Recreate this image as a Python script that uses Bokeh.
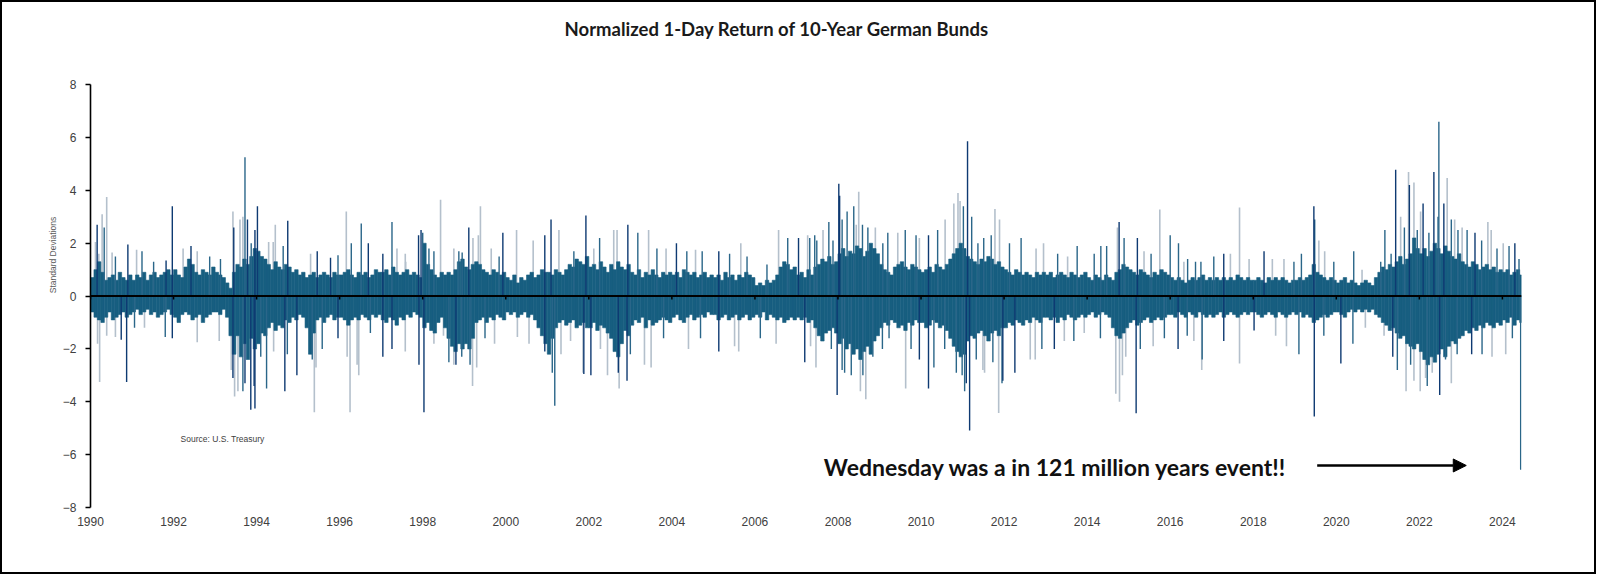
from bokeh.plotting import figure
from bokeh.models import ColumnDataSource, Span, Label, Arrow, NormalHead, FixedTicker, Range1d
from bokeh.embed import file_html
from bokeh.resources import INLINE

# ---------------- data ----------------
START_YEAR = 1990
TICK_YEARS = list(range(1990, 2025, 2))
Y_TICKS = list(range(-8, 9, 2))

# typical monthly extent of the dense (body) part of the daily bars, in std devs
BODY_POS = [
    [0.7, 1.0, 1.3, 0.9, 0.6, 0.7, 0.8, 0.6, 0.9, 0.7, 0.6, 0.8],  # 1990
    [0.6, 0.8, 0.7, 0.9, 0.6, 0.8, 0.9, 0.7, 0.8, 0.9, 1.0, 0.8],  # 1991
    [1.0, 0.8, 0.7, 1.1, 1.4, 1.2, 0.9, 0.8, 1.0, 0.9, 0.8, 1.1],  # 1992
    [0.9, 0.8, 0.7, 0.5, 0.3, 0.9, 1.2, 1.1, 1.4, 1.2, 1.5, 1.8],  # 1993
    [1.7, 1.5, 1.4, 1.2, 1.0, 1.3, 1.1, 1.0, 1.2, 1.1, 0.9, 1.0],  # 1994
    [0.8, 0.9, 0.7, 0.8, 0.9, 0.7, 0.8, 0.9, 0.8, 0.7, 0.9, 0.8],  # 1995
    [0.8, 0.9, 1.0, 0.8, 0.7, 0.9, 0.8, 0.9, 0.7, 0.8, 1.0, 0.9],  # 1996
    [0.9, 1.0, 0.8, 1.1, 0.9, 0.8, 0.9, 1.0, 0.8, 0.9, 0.8, 0.7],  # 1997
    [2.0, 1.2, 1.0, 0.8, 0.7, 0.9, 0.8, 0.9, 0.8, 1.0, 1.3, 1.4],  # 1998
    [1.1, 1.0, 1.2, 1.3, 1.2, 1.0, 0.9, 0.8, 1.0, 0.9, 0.8, 0.9],  # 1999
    [0.7, 0.6, 0.8, 0.5, 0.7, 0.6, 0.8, 0.9, 0.7, 0.8, 1.0, 0.9],  # 2000
    [0.9, 0.8, 1.0, 0.9, 0.8, 1.0, 1.2, 1.1, 1.4, 1.3, 1.2, 1.5],  # 2001
    [1.1, 1.2, 1.0, 1.3, 1.1, 0.9, 1.2, 1.0, 1.3, 1.1, 1.0, 1.2],  # 2002
    [0.9, 0.8, 1.0, 0.7, 0.9, 0.8, 1.0, 0.8, 0.7, 0.9, 0.8, 0.9],  # 2003
    [0.8, 0.9, 0.7, 1.0, 0.9, 0.8, 0.9, 0.7, 0.8, 0.9, 0.7, 0.8],  # 2004
    [0.7, 0.8, 0.6, 0.9, 0.7, 0.8, 0.6, 0.8, 0.7, 0.9, 0.8, 0.7],  # 2005
    [0.4, 0.5, 0.4, 0.6, 0.5, 0.6, 0.8, 1.1, 1.3, 1.2, 1.0, 1.1],  # 2006
    [0.8, 0.9, 0.7, 1.0, 0.8, 1.1, 1.2, 1.4, 1.3, 1.5, 1.2, 1.3],  # 2007
    [1.6, 1.8, 1.5, 1.7, 1.6, 1.9, 1.8, 1.5, 1.7, 2.0, 1.8, 1.6],  # 2008
    [1.2, 1.0, 0.9, 0.8, 1.1, 1.2, 1.3, 1.1, 1.0, 1.2, 1.1, 1.0],  # 2009
    [0.9, 1.0, 1.1, 0.9, 1.2, 1.1, 1.0, 1.2, 1.4, 1.6, 1.8, 2.0],  # 2010
    [1.8, 1.5, 1.4, 1.3, 1.2, 1.4, 1.3, 1.5, 1.4, 1.2, 1.3, 1.1],  # 2011
    [1.0, 0.9, 0.8, 1.0, 0.9, 0.8, 0.9, 0.8, 0.7, 0.9, 0.8, 0.9],  # 2012
    [0.8, 0.9, 0.7, 0.8, 0.9, 0.8, 0.7, 0.9, 0.8, 0.7, 0.8, 0.9],  # 2013
    [0.7, 0.6, 0.8, 0.7, 0.6, 0.8, 0.7, 0.6, 0.9, 1.0, 1.2, 1.1],  # 2014
    [1.0, 0.9, 0.8, 1.0, 0.9, 0.8, 0.7, 0.9, 0.8, 1.0, 0.9, 0.8],  # 2015
    [0.7, 0.6, 0.7, 0.6, 0.5, 0.6, 0.7, 0.6, 0.7, 0.8, 0.6, 0.7],  # 2016
    [0.6, 0.7, 0.6, 0.7, 0.6, 0.7, 0.6, 0.8, 0.7, 0.6, 0.7, 0.6],  # 2017
    [0.6, 0.7, 0.6, 0.5, 0.7, 0.6, 0.7, 0.6, 0.7, 0.6, 0.5, 0.6],  # 2018
    [0.6, 0.7, 0.6, 0.7, 0.8, 1.2, 0.9, 0.8, 0.7, 0.6, 0.7, 0.6],  # 2019
    [0.5, 0.6, 0.7, 0.5, 0.6, 0.5, 0.4, 0.5, 0.6, 0.5, 0.4, 0.7],  # 2020
    [0.9, 1.1, 1.0, 1.2, 1.1, 1.3, 1.5, 1.2, 1.4, 1.6, 2.2, 1.8],  # 2021
    [1.6, 1.8, 1.5, 1.7, 2.0, 1.8, 1.6, 1.9, 1.7, 1.5, 1.4, 1.6],  # 2022
    [1.3, 1.2, 1.1, 1.3, 1.2, 1.0, 1.1, 1.2, 1.0, 1.1, 0.9, 1.0],  # 2023
    [0.9, 1.0, 0.8, 0.9, 1.0, 0.8],                                # 2024
]
BODY_NEG = [
    [-0.6, -0.8, -0.9, -1.0, -0.8, -0.6, -0.9, -0.8, -0.7, -0.6, -0.8, -0.7],  # 1990
    [-0.6, -0.5, -0.7, -0.6, -0.5, -0.7, -0.6, -0.8, -0.7, -0.6, -0.5, -0.7],  # 1991
    [-0.8, -1.0, -0.7, -0.6, -0.7, -0.9, -0.8, -0.7, -1.0, -0.8, -0.7, -0.6],  # 1992
    [-0.6, -0.7, -0.5, -0.8, -1.5, -2.2, -1.5, -2.3, -1.8, -2.4, -1.6, -2.0],  # 1993
    [-1.8, -1.4, -1.5, -1.2, -1.0, -1.3, -1.1, -1.2, -0.9, -1.0, -0.8, -0.9],  # 1994
    [-0.7, -0.8, -1.2, -2.2, -1.4, -0.9, -0.8, -1.0, -0.8, -0.7, -0.9, -0.8],  # 1995
    [-0.8, -0.9, -1.1, -0.9, -0.8, -0.9, -0.7, -0.8, -0.9, -0.7, -0.8, -0.7],  # 1996
    [-0.9, -1.0, -0.8, -0.9, -1.1, -0.8, -0.9, -0.7, -0.8, -0.6, -0.7, -0.8],  # 1997
    [-1.2, -1.0, -1.3, -1.4, -1.0, -0.8, -1.2, -1.6, -1.9, -2.1, -1.8, -2.0],  # 1998
    [-1.8, -2.0, -1.6, -1.0, -0.9, -0.8, -1.0, -0.8, -0.9, -0.7, -0.8, -0.9],  # 1999
    [-0.6, -0.7, -0.6, -0.8, -0.7, -0.6, -0.8, -0.7, -0.9, -1.2, -1.5, -1.8],  # 2000
    [-2.2, -1.6, -1.2, -1.0, -0.9, -1.1, -1.0, -0.9, -1.2, -1.1, -1.0, -1.2],  # 2001
    [-1.2, -1.0, -1.3, -1.1, -1.2, -1.4, -1.6, -2.1, -2.3, -1.8, -1.3, -1.5],  # 2002
    [-1.1, -0.9, -1.0, -0.8, -1.2, -0.9, -1.1, -1.0, -0.9, -0.8, -0.9, -1.0],  # 2003
    [-0.8, -0.7, -0.9, -1.0, -0.8, -0.7, -0.9, -0.8, -0.7, -0.8, -0.6, -0.7],  # 2004
    [-0.7, -0.9, -0.8, -0.7, -0.9, -0.8, -0.7, -0.9, -0.8, -0.7, -0.9, -0.8],  # 2005
    [-0.7, -0.8, -0.6, -0.9, -0.7, -0.8, -0.9, -0.8, -1.0, -0.9, -0.8, -0.9],  # 2006
    [-0.8, -0.9, -0.8, -1.0, -0.9, -1.2, -1.5, -1.7, -1.4, -1.3, -1.2, -1.4],  # 2007
    [-1.8, -1.6, -2.0, -1.8, -2.2, -2.0, -2.4, -2.1, -1.9, -2.2, -1.7, -1.5],  # 2008
    [-1.2, -1.0, -1.1, -0.9, -1.0, -1.2, -1.1, -1.3, -1.0, -1.1, -0.9, -1.0],  # 2009
    [-1.0, -1.2, -1.1, -0.9, -1.0, -1.2, -1.1, -1.3, -1.6, -1.9, -2.1, -2.3],  # 2010
    [-2.2, -1.7, -1.5, -1.6, -1.4, -1.3, -1.5, -1.7, -1.4, -1.3, -1.5, -1.2],  # 2011
    [-1.2, -1.0, -1.1, -0.9, -1.0, -1.1, -0.9, -1.0, -0.8, -0.9, -1.0, -0.8],  # 2012
    [-0.8, -0.9, -0.8, -1.0, -0.8, -0.9, -0.7, -0.8, -0.9, -0.8, -0.7, -0.8],  # 2013
    [-0.7, -0.6, -0.8, -0.7, -0.6, -0.7, -0.8, -1.2, -1.5, -1.6, -1.4, -1.2],  # 2014
    [-1.0, -0.9, -1.1, -1.0, -0.9, -0.8, -1.0, -0.9, -0.8, -0.9, -0.8, -0.7],  # 2015
    [-0.7, -0.8, -0.6, -0.7, -0.8, -0.6, -0.7, -0.8, -0.6, -0.7, -0.8, -0.7],  # 2016
    [-0.8, -0.7, -0.6, -0.8, -0.7, -0.6, -0.7, -0.8, -0.7, -0.6, -0.7, -0.6],  # 2017
    [-0.6, -0.7, -0.8, -0.7, -0.6, -0.7, -0.8, -0.6, -0.7, -0.8, -0.7, -0.6],  # 2018
    [-0.7, -0.6, -0.8, -0.7, -0.8, -1.0, -0.9, -0.8, -0.7, -0.8, -0.7, -0.6],  # 2019
    [-0.6, -0.7, -0.8, -0.6, -0.5, -0.6, -0.5, -0.6, -0.5, -0.6, -0.5, -0.7],  # 2020
    [-0.8, -1.0, -1.1, -1.3, -1.2, -1.4, -1.6, -1.5, -1.8, -1.9, -2.0, -1.8],  # 2021
    [-2.1, -2.4, -2.6, -2.3, -2.5, -2.2, -2.0, -2.3, -1.9, -1.7, -1.8, -1.6],  # 2022
    [-1.5, -1.3, -1.4, -1.2, -1.3, -1.1, -1.2, -1.0, -1.1, -1.2, -1.0, -1.1],  # 2023
    [-0.9, -1.0, -0.8, -1.1, -0.9, -1.0],                                      # 2024
]

# individual days that stand out from the body (date as fractional year, value)
GRAY_X = [1990.12, 1990.2, 1990.28, 1990.39, 1990.52, 1991.11, 1992.23, 1992.57, 1993.43, 1993.6,
          1993.67, 1994.29, 1994.4, 1994.45, 1995.3, 1996.16, 1997.38, 1997.58, 1997.59, 1998.43,
          1998.75, 1999.21, 1999.34, 1999.39, 1999.65, 2000.26, 2000.66, 2001.28, 2002.12, 2002.6,
          2002.68, 2003.44, 2003.86, 2004.57, 2005.66, 2006.57, 2007.27, 2007.64, 2008.44, 2008.5,
          2008.9, 2009.44, 2009.96, 2010.58, 2010.79, 2010.89, 2010.94, 2011.78, 2011.89, 2012.77,
          2012.95, 2013.53, 2014.73, 2015.37, 2015.75, 2016.33, 2017.45, 2017.67, 2017.9, 2018.46,
          2018.74, 2019.58, 2019.72, 2020.62, 2021.55, 2021.74, 2021.87, 2022.03, 2022.67, 2022.85,
          2023.03, 2023.65, 2023.73, 2024.02,
          1990.17, 1990.22, 1990.39, 1990.6, 1991.3, 1992.57, 1993.1, 1993.39, 1993.47, 1993.55,
          1994.41, 1995.39, 1995.43, 1996.18, 1996.25, 1996.42, 1996.46, 1997.58, 1998.27, 1998.5,
          1998.75, 1999.2, 1999.3, 1999.73, 2000.28, 2000.56, 2001.33, 2001.56, 2001.86, 2002.28,
          2002.45, 2002.73, 2003.34, 2003.5, 2004.4, 2005.51, 2005.61, 2006.51, 2007.34, 2007.47,
          2008.54, 2008.67, 2009.63, 2011.49, 2011.53, 2011.87, 2012.63, 2012.75, 2013.45, 2013.93,
          2014.69, 2014.78, 2014.85, 2014.93, 2015.59, 2016.57, 2016.76, 2017.67, 2018.54, 2018.8,
          2020.7, 2021.15, 2021.68, 2021.87, 2022.02, 2022.15, 2022.31, 2022.77, 2023.75, 2024.08]
GRAY_Y = [2.05, 1.6, 3.1, 3.75, 1.65, 1.75, 1.8, 1.7, 3.2, 2.9,
          3.0, 2.05, 2.05, 2.7, 1.6, 3.2, 1.8, 1.6, 1.3, 3.65,
          1.8, 2.2, 2.3, 3.4, 1.8, 2.5, 2.1, 2.5, 1.8, 2.5,
          2.5, 2.5, 1.8, 1.75, 2.0, 2.5, 2.3, 2.5, 2.7, 3.95,
          2.6, 2.4, 2.2, 2.9, 3.5, 3.9, 3.6, 3.3, 2.9, 1.8,
          2.0, 1.5, 2.6, 1.7, 3.28, 1.3, 1.6, 3.35, 1.4, 1.4,
          1.4, 2.1, 1.7, 1.0, 3.0, 4.7, 4.3, 3.2, 4.47, 2.9,
          2.6, 2.8, 2.5, 2.0,
          -1.8, -3.25, -1.5, -1.55, -1.2, -1.75, -1.7, -2.8, -3.8, -3.6,
          -2.1, -4.4, -2.7, -2.3, -4.4, -2.6, -3.0, -2.1, -1.8, -1.5,
          -2.6, -3.4, -2.7, -1.8, -1.55, -1.8, -2.2, -1.7, -2.9, -2.0,
          -3.0, -3.5, -2.6, -2.7, -2.0, -1.9, -2.1, -1.8, -1.9, -2.7,
          -3.6, -3.9, -3.5, -2.8, -2.9, -4.42, -2.4, -2.4, -1.7, -1.4,
          -3.7, -4.0, -3.0, -2.3, -1.9, -1.7, -2.8, -2.55, -1.5, -1.9,
          -1.2, -1.5, -3.6, -3.2, -3.6, -3.1, -2.9, -3.3, -2.3, -2.2]

NAVY_X = [1990.16, 1990.9, 1991.82, 1991.97, 1992.42, 1993.45, 1993.78, 1993.96, 1994.02, 1994.75,
          1995.46, 1995.78, 1996.69, 1997.04, 1997.9, 1997.96, 1999.11, 1999.93, 2000.94, 2001.09,
          2001.93, 2002.94, 2004.11, 2005.13, 2007.05, 2008.02, 2008.04, 2010.18, 2011.12, 2014.77,
          2015.21, 2017.29, 2018.26, 2019.46, 2021.43, 2021.76, 2022.09, 2022.35, 2022.59, 2023.34,
          2024.3,
          1990.74, 1990.87, 1991.97, 1993.43, 1993.72, 1993.86, 1993.96, 1993.94, 1994.68, 1994.97,
          1995.96, 1997.04, 1997.26, 1997.91, 1998.03, 1998.8, 2000.94, 2001.88, 2002.05, 2002.71,
          2002.92, 2005.13, 2007.2, 2007.98, 2009.96, 2010.18, 2011.09, 2011.17, 2011.97, 2012.26,
          2013.21, 2015.18, 2016.19, 2017.29, 2018.02, 2019.47, 2020.11, 2021.36, 2022.49, 2023.26]
NAVY_Y = [2.7, 1.95, 1.35, 3.4, 1.9, 2.6, 2.9, 2.5, 3.4, 2.85,
          1.7, 1.45, 2.0, 1.6, 2.3, 2.5, 2.6, 2.4, 2.3, 2.9,
          3.05, 2.7, 2.0, 1.7, 2.2, 4.25, 3.8, 2.3, 5.86, 2.8,
          2.2, 1.6, 1.7, 3.4, 4.78, 4.2, 3.5, 4.7, 3.5, 2.4,
          2.0,
          -1.65, -3.25, -1.6, -3.1, -3.3, -4.3, -4.25, -3.4, -3.6, -3.0,
          -1.6, -2.3, -2.0, -2.6, -4.4, -2.6, -2.1, -2.95, -3.0, -2.9,
          -3.2, -2.1, -2.5, -3.74, -2.4, -3.5, -3.3, -5.09, -3.2, -2.9,
          -2.0, -4.43, -2.0, -1.7, -1.3, -4.56, -2.55, -2.3, -3.74, -2.2]

TEAL_X = [1990.33, 1990.6, 1991.24, 1991.52, 1992.87, 1993.13, 1993.72, 1993.87, 1994.64, 1995.96,
          1996.28, 1996.52, 1997.26, 1998.0, 1998.15, 1998.27, 1998.87, 1998.95, 1999.84, 2001.64,
          2002.26, 2003.18, 2003.64, 2004.36, 2004.73, 2005.39, 2005.81, 2006.29, 2006.79, 2007.32,
          2007.44, 2007.49, 2007.78, 2007.88, 2008.1, 2008.22, 2008.38, 2008.59, 2008.72, 2009.08,
          2009.2, 2009.62, 2009.88, 2010.4, 2011.02, 2011.22, 2011.37, 2011.51, 2011.69, 2012.13,
          2012.41, 2013.29, 2013.76, 2014.17, 2014.33, 2014.47, 2014.89, 2015.54, 2016.0, 2016.2,
          2016.42, 2016.61, 2016.74, 2017.05, 2018.98, 2019.16, 2019.48, 2019.94, 2020.42, 2021.07,
          2021.17, 2021.32, 2021.64, 2021.95, 2022.23, 2022.45, 2022.47, 2022.77, 2022.93, 2023.15,
          2023.5, 2023.87, 2024.16, 2024.4,
          1991.06, 1991.8, 1993.67, 1994.1, 1994.24, 1994.74, 1995.34, 1995.58, 1996.74, 1998.63,
          1998.94, 1999.14, 1999.5, 2001.12, 2001.18, 2003.0, 2003.8, 2004.69, 2006.13, 2007.84,
          2008.1, 2008.16, 2008.32, 2008.6, 2008.84, 2009.07, 2009.23, 2009.76, 2010.31, 2010.57,
          2010.85, 2010.99, 2011.05, 2011.33, 2011.73, 2011.95, 2012.91, 2013.68, 2014.32, 2015.28,
          2015.86, 2016.41, 2016.77, 2019.1, 2019.7, 2020.4, 2021.47, 2021.79, 2022.19, 2022.63,
          2022.91, 2023.51, 2024.24, 2024.44]
TEAL_Y = [2.6, 1.5, 1.7, 1.3, 1.5, 1.4, 5.25, 2.0, 1.9, 1.55,
          2.0, 2.75, 2.8, 2.4, 1.8, 1.7, 1.7, 1.65, 1.5, 1.7,
          2.2, 2.4, 1.8, 1.7, 1.7, 1.6, 1.5, 1.2, 2.2, 2.2,
          2.3, 2.1, 2.8, 2.1, 2.9, 3.2, 3.4, 2.7, 2.6, 2.0,
          2.4, 2.5, 2.3, 2.5, 3.4, 3.0, 2.0, 2.2, 2.3, 2.0,
          2.2, 1.6, 1.9, 1.6, 1.9, 1.9, 2.2, 1.6, 2.3, 2.0,
          1.4, 1.3, 1.3, 1.5, 1.3, 1.6, 2.9, 1.3, 1.7, 1.3,
          2.5, 1.6, 2.6, 2.5, 2.4, 3.0, 6.6, 2.9, 2.5, 2.5,
          2.1, 1.8, 1.9, 1.4,
          -1.2, -1.55, -3.6, -2.3, -3.5, -2.2, -2.4, -2.0, -1.4, -2.5,
          -2.3, -2.6, -1.6, -2.9, -4.15, -2.2, -1.6, -1.6, -1.6, -2.0,
          -2.8, -2.9, -3.0, -3.0, -2.3, -2.0, -1.6, -2.0, -2.7, -2.0,
          -2.9, -3.0, -3.6, -2.4, -2.5, -3.3, -2.0, -1.7, -1.6, -2.0,
          -1.6, -1.5, -2.4, -2.2, -1.5, -1.8, -2.8, -2.6, -3.4, -2.4,
          -2.2, -2.2, -1.6, -6.57]

# ---------------- build ----------------
bx, bpos, bneg = [], [], []
for i, (ps, ns) in enumerate(zip(BODY_POS, BODY_NEG)):
    for m, (pv, nv) in enumerate(zip(ps, ns)):
        bx.append(START_YEAR + i + (m + 0.5) / 12.0)
        bpos.append(pv)
        bneg.append(nv)
body = ColumnDataSource(dict(x=bx, top=bpos, bottom=bneg))

# the frame reaches the top of the page so the title can sit inside it;
# the y axis itself is bounded to -8..8
W, H = 1596, 574
p = figure(width=W, height=H, output_backend="svg", toolbar_location=None,
           x_range=Range1d(1990, 2024.46), y_range=Range1d(-8, 11.11),
           min_border_left=88, min_border_right=77, min_border_top=0, min_border_bottom=69)
p.styles = {"border": "2px solid black"}
p.outline_line_color = None
p.xgrid.grid_line_color = None
p.ygrid.grid_line_color = None
p.background_fill_color = "white"
p.border_fill_color = "white"

BODY_C = "#175E80"
GRAY_C = "#B4C0CC"
NAVY_C = "#0E3A72"
TEAL_C = "#2A6689"

p.segment(x0=GRAY_X, y0=[0] * len(GRAY_X), x1=GRAY_X, y1=GRAY_Y, line_color=GRAY_C, line_width=1.6)
p.vbar(x="x", top="top", bottom=0, width=1 / 12.0, source=body,
       fill_color=BODY_C, line_color=BODY_C, line_width=0.6)
p.vbar(x="x", top=0, bottom="bottom", width=1 / 12.0, source=body,
       fill_color=BODY_C, line_color=BODY_C, line_width=0.6)
p.segment(x0=TEAL_X, y0=[0] * len(TEAL_X), x1=TEAL_X, y1=TEAL_Y, line_color=TEAL_C, line_width=1.4)
p.segment(x0=NAVY_X, y0=[0] * len(NAVY_X), x1=NAVY_X, y1=NAVY_Y, line_color=NAVY_C, line_width=1.4)

# zero line with small ticks
p.add_layout(Span(location=0, dimension="width", line_color="black", line_width=2))
p.segment(x0=TICK_YEARS, y0=[0] * len(TICK_YEARS), x1=TICK_YEARS, y1=[-0.13] * len(TICK_YEARS),
          line_color="black", line_width=1.5)

# axes
p.yaxis.bounds = (Y_TICKS[0], Y_TICKS[-1])
p.yaxis.ticker = FixedTicker(ticks=Y_TICKS)
p.yaxis.minor_tick_line_color = None
p.yaxis.axis_line_color = "black"
p.yaxis.axis_line_width = 1.6
p.yaxis.major_tick_line_color = "black"
p.yaxis.major_tick_line_width = 1.6
p.yaxis.major_tick_out = 5
p.yaxis.major_tick_in = 0
p.yaxis.major_label_standoff = 9
p.yaxis.major_label_text_font = "Liberation Sans"
p.yaxis.major_label_text_font_size = "12px"
p.yaxis.major_label_text_color = "#404040"
p.yaxis.axis_label = "Standard Deviations"
p.yaxis.axis_label_text_font = "Liberation Sans"
p.yaxis.axis_label_text_font_size = "8.5px"
p.yaxis.axis_label_text_font_style = "normal"
p.yaxis.axis_label_text_color = "#595959"
p.yaxis.axis_label_standoff = 2

p.xaxis.ticker = FixedTicker(ticks=TICK_YEARS)
p.xaxis.minor_tick_line_color = None
p.xaxis.axis_line_color = None
p.xaxis.major_tick_line_color = None
p.xaxis.major_tick_out = 0
p.xaxis.major_label_standoff = 9
p.xaxis.major_label_text_font = "Liberation Sans"
p.xaxis.major_label_text_font_size = "12px"
p.xaxis.major_label_text_color = "#404040"

# texts
p.add_layout(Label(x=2006.53, y=10.12, text="Normalized 1-Day Return of 10-Year German Bunds",
                   text_align="center", text_baseline="middle", text_font="Lato",
                   text_font_style="bold", text_font_size="18.5px", text_color="#1a1a1a"))
p.add_layout(Label(x=1992.17, y=-5.39, text="Source:  U.S. Treasury", text_align="left",
                   text_baseline="middle", text_font="Liberation Sans", text_font_size="8.5px",
                   text_color="#404040"))
p.add_layout(Label(x=2007.66, y=-6.45, text="Wednesday was a  in 121 million years event!!",
                   text_align="left", text_baseline="middle", text_font="Lato",
                   text_font_style="bold", text_font_size="23px", text_color="#111111"))
p.add_layout(Arrow(end=NormalHead(size=13, fill_color="black", line_color="black"),
                   x_start=2019.54, y_start=-6.41, x_end=2023.13, y_end=-6.41,
                   line_color="black", line_width=2.5))

open("out.html", "w").write(file_html(p, INLINE))
